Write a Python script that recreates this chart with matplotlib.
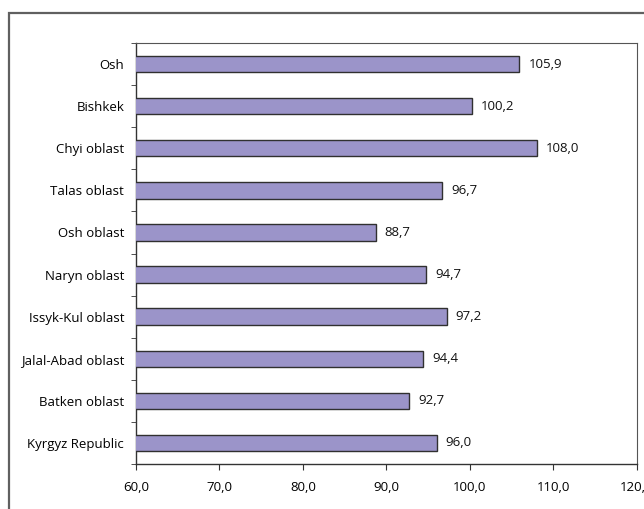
import matplotlib
matplotlib.use("Agg")
import matplotlib.pyplot as plt
from matplotlib.patches import Rectangle
import numpy as np

# regions, top to bottom as in the chart
regions = ["Osh", "Bishkek", "Chyi oblast", "Talas oblast", "Osh oblast",
           "Naryn oblast", "Issyk-Kul oblast", "Jalal-Abad oblast",
           "Batken oblast", "Kyrgyz Republic"]
values = [105.9, 100.2, 108.0, 96.7, 88.7, 94.7, 97.2, 94.4, 92.7, 96.0]
xticks = [60, 70, 80, 90, 100, 110, 120]

plt.rcParams['font.family'] = ['Open Sans', 'DejaVu Sans']

fig = plt.figure(figsize=(6.44, 5.09), dpi=100)
ax = fig.add_axes([0.2112, 0.0884, 0.7778, 0.8271])

# outer frame of the chart area (runs off the right and bottom edges)
fig.patches.append(Rectangle((9 / 644, -0.05), 1.0, 1 - 13 / 509 + 0.05,
                             transform=fig.transFigure, fill=False,
                             edgecolor="#606060", linewidth=1.6, clip_on=False))

n = len(regions)
y = np.arange(n)[::-1]
ax.barh(y, values, height=0.39, color="#9b94c9", edgecolor="#303030",
        linewidth=1.0, zorder=3)

for yi, v in zip(y, values):
    ax.text(v + 1.1, yi, f"{v:.1f}".replace(".", ","), va="center", ha="left",
            fontsize=9.5, color="#111111")

ax.set_xlim(60, 120)
ax.set_ylim(-0.5, n - 0.5)
ax.set_xticks(xticks)
ax.set_xticklabels([f"{t:.1f}".replace(".", ",") for t in xticks], fontsize=9.5)

# category labels centred, ticks on the boundaries
ax.set_yticks(y)
ax.set_yticklabels(regions, fontsize=9.5)
ax.set_yticks(np.arange(-0.5, n, 1.0), minor=True)
ax.tick_params(axis="y", which="major", length=0, pad=8.5)
ax.tick_params(axis="y", which="minor", length=3.5, direction="out", color="#333333")
ax.tick_params(axis="x", length=4, direction="out", color="#333333", pad=8)

for side in ["left", "bottom"]:
    ax.spines[side].set_color("#333333")
    ax.spines[side].set_linewidth(1.0)
for side in ["top", "right"]:
    ax.spines[side].set_color("#555555")
    ax.spines[side].set_linewidth(0.8)

fig.savefig("out.png", dpi=100)
